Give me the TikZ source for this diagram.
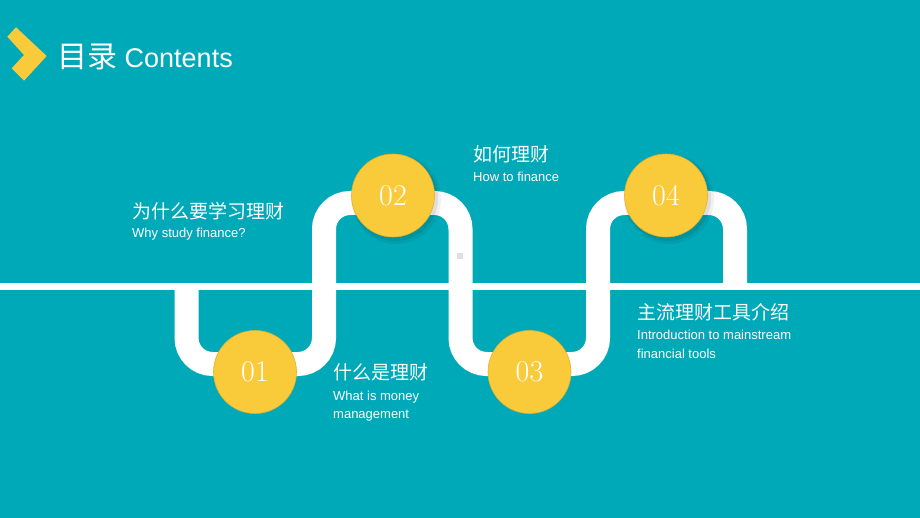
\documentclass[tikz,border=0pt]{standalone}
\usepackage{fontspec}
\setmainfont{Liberation Sans}
\newfontfamily\cjk{Noto Sans CJK SC}
\newfontfamily\numfont{Latin Modern Roman}
\definecolor{bgteal}{HTML}{00A9B8}
\definecolor{dotyellow}{HTML}{F9CB3A}
\definecolor{dotedge}{HTML}{E6B22A}

\begin{document}
\begin{tikzpicture}[x=1pt,y=-1pt,
  dot/.style={circle,fill=dotyellow,draw=dotedge,line width=0.6pt,
    minimum size=83pt,inner sep=0pt,text=white,
    font=\numfont\fontsize{30}{30}\selectfont},
  headline/.style={anchor=base west,text=white,inner sep=0pt,
    font=\cjk\fontsize{19}{19}\selectfont},
  subline/.style={anchor=base west,text=white,inner sep=0pt,
    font=\fontsize{13}{15}\selectfont}]

  \fill[bgteal] (0,0) rectangle (920,518);

  % title
  \fill[dotyellow] (7.3,36.7) -- (16,27.3) -- (46.7,56) -- (24,80.7) -- (11.7,68.3) -- (24,55) -- cycle;
  \node[anchor=base west,text=white,inner sep=0pt,
    font=\fontsize{27}{30}\selectfont] (title) at (57,68)
    {{\cjk\fontsize{30}{30}\selectfont 目录} Contents};

  % axis and winding tube
  \fill[white] (0,283) rectangle (920,290);
  \draw[white,line width=24pt,rounded corners=26pt]
    (186.5,286) -- (186.5,364) -- (324,364) -- (324,203) -- (460.5,203)
    -- (460.5,364) -- (598,364) -- (598,203) -- (735,203) -- (735,286);
  \fill[black!12] (457,253) rectangle ++(6,6);

  % shadows of the upper dots
  \foreach \x in {393,666} {
      \fill[black,opacity=.06] (\x+3,199) circle (45);
      \fill[black,opacity=.08] (\x+2,198) circle (43);
  }

  \foreach \n/\x/\y in {1/255/372, 2/393/195.5, 3/529.5/372, 4/666/195.5}
      \node[dot] (d\n) at (\x,\y) {0\n};

  % labels
  \node[headline] (h1) at (132,218.7) {为什么要学习理财};
  \node[subline] (s1) at (132,238) {Why study finance?};

  \node[headline] (h2) at (473,162) {如何理财};
  \node[subline] (s2) at (473,182) {How to finance};

  \node[headline] (h3) at (333,379) {什么是理财};
  \node[subline] (s3a) at (333,400) {What is money};
  \node[subline] (s3b) at (333,418) {management};

  \node[headline] (h4) at (637,319.7) {主流理财工具介绍};
  \node[subline] (s4a) at (637,339) {Introduction to mainstream};
  \node[subline] (s4b) at (637,358) {financial tools};

\end{tikzpicture}
\end{document}
